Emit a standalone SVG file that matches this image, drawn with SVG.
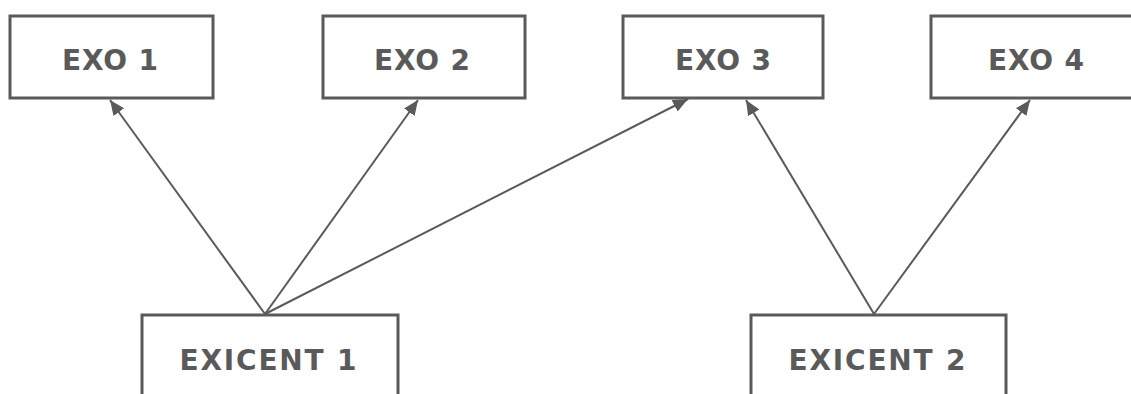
<svg xmlns="http://www.w3.org/2000/svg" width="1131" height="394" viewBox="0 0 1131 394">
<style>
.box{fill:#ffffff;stroke:#5a5a5a;stroke-width:3}
.lbl{font-family:"DejaVu Sans","Liberation Sans",sans-serif;font-weight:bold;font-size:28px;fill:#5a5a5a;text-anchor:middle}
.edge{stroke:#5a5a5a;stroke-width:2;fill:none;marker-end:url(#ah)}
</style>
<defs>
<marker id="ah" markerUnits="userSpaceOnUse" markerWidth="16" markerHeight="13" refX="15" refY="6.5" orient="auto">
<path d="M0,0 L15,6.5 L0,13 z" fill="#5a5a5a"/>
</marker>
</defs>
<rect width="1131" height="394" fill="#ffffff"/>
<g id="exo1"><rect class="box" x="10" y="16" width="203" height="82"/><text class="lbl" x="110" y="70" textLength="96" lengthAdjust="spacing">EXO 1</text></g>
<g id="exo2"><rect class="box" x="323" y="16" width="202" height="82"/><text class="lbl" x="422" y="70" textLength="96" lengthAdjust="spacing">EXO 2</text></g>
<g id="exo3"><rect class="box" x="623" y="16" width="200" height="82"/><text class="lbl" x="723" y="70" textLength="96" lengthAdjust="spacing">EXO 3</text></g>
<g id="exo4"><rect class="box" x="931" y="16" width="203" height="82"/><text class="lbl" x="1036" y="70" textLength="96" lengthAdjust="spacing">EXO 4</text></g>
<g id="exicent1"><rect class="box" x="142" y="315" width="256" height="100"/><text class="lbl" x="268" y="370" textLength="177" lengthAdjust="spacing">EXICENT 1</text></g>
<g id="exicent2"><rect class="box" x="751" y="315" width="255" height="100"/><text class="lbl" x="877" y="370" textLength="177" lengthAdjust="spacing">EXICENT 2</text></g>
<g id="connectors">
<line class="edge" x1="265" y1="314" x2="110" y2="100"/>
<line class="edge" x1="265" y1="314" x2="418" y2="100"/>
<line class="edge" x1="265" y1="314" x2="688" y2="99"/>
<line class="edge" x1="874" y1="314" x2="746" y2="100"/>
<line class="edge" x1="874" y1="314" x2="1030" y2="100"/>
</g>
</svg>
